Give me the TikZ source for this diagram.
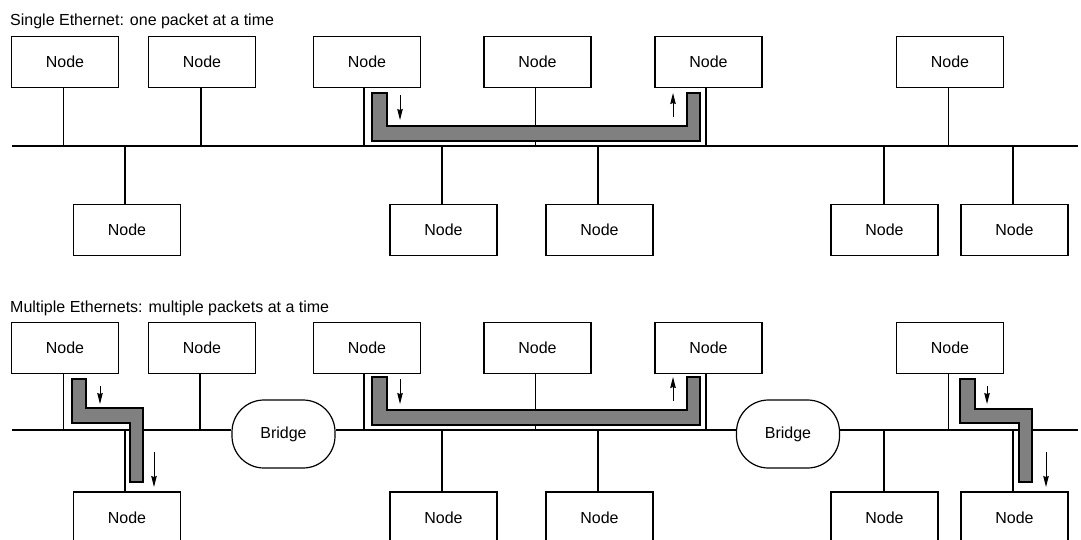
\documentclass[tikz,border=0pt]{standalone}
\usepackage{fontspec}
\setmainfont{Liberation Sans}
\usetikzlibrary{arrows.meta}
\begin{document}
\begin{tikzpicture}[x=1pt,y=-1pt,
  every node/.style={font=\fontsize{16}{19}\selectfont},
  hostbox/.style={draw, line width=1.2pt, minimum width=107pt, minimum height=51pt, inner sep=0pt},
  bridgebox/.style={draw, line width=1.2pt, rounded corners=32pt, minimum width=103pt, minimum height=68pt, inner sep=0pt},
  wire/.style={line width=1.2pt},
  packet/.style={draw=black, fill=black!50, line width=1.2pt},
  flow/.style={line width=1pt, -{Stealth[length=11pt,width=5.5pt,inset=1pt]}},
  title/.style={anchor=base west, inner sep=0pt}
]
\useasboundingbox (0,0) rectangle (1081,539);
\clip (0,0) rectangle (1081,539);

% ---------------- Top: single Ethernet ----------------
\node[title] (t1) at (10,25) {Single Ethernet: one packet at a time};

\coordinate (busL) at (12,146);
\coordinate (busR) at (1078,146);
\draw[wire] (busL) -- (busR);

\node[hostbox] (a1) at (65,62) {Node};
\node[hostbox] (a2) at (202,62) {Node};
\node[hostbox] (a3) at (367,62) {Node};
\node[hostbox] (a4) at (537.5,62) {Node};
\node[hostbox] (a5) at (708.5,62) {Node};
\node[hostbox] (a6) at (950,62) {Node};

\node[hostbox] (b1) at (127,230) {Node};
\node[hostbox] (b2) at (443.5,230) {Node};
\node[hostbox] (b3) at (599.5,230) {Node};
\node[hostbox] (b4) at (884.5,230) {Node};
\node[hostbox] (b5) at (1014.5,230) {Node};

\foreach \n/\d in {a1/-1.5, a2/-1, a3/-3, a4/-2, a5/-2.5, a6/-1.5}
  \draw[wire] ([xshift=\d pt]\n.south) -- ([xshift=\d pt]\n.south |- busL);
\foreach \n/\d in {b1/-2, b2/-1.5, b3/-1.5, b4/-0.5, b5/-1.5}
  \draw[wire] ([xshift=\d pt]\n.north) -- ([xshift=\d pt]\n.north |- busL);

\draw[packet] (372,93) -- (387,93) -- (387,126) -- (687,126) -- (687,93)
  -- (700,93) -- (700,141) -- (372,141) -- cycle;
\draw[flow] (400,95) -- (400,120);
\draw[flow] (673,117) -- (673,93);

% ---------------- Bottom: multiple Ethernets ----------------
\node[title] (t2) at (10,312) {Multiple Ethernets: multiple packets at a time};

\node[bridgebox] (br1) at (283.5,434) {Bridge};
\node[bridgebox] (br2) at (788,434) {Bridge};

\coordinate (bus2L) at (12,430);
\coordinate (bus2R) at (1078,430);
\draw[wire] (bus2L) -- (bus2L -| br1.west);
\draw[wire] (br1.east |- bus2L) -- (br2.west |- bus2L);
\draw[wire] (br2.east |- bus2L) -- (bus2R);

\node[hostbox] (c1) at (65,348) {Node};
\node[hostbox] (c2) at (202,348) {Node};
\node[hostbox] (c3) at (367,348) {Node};
\node[hostbox] (c4) at (537.5,348) {Node};
\node[hostbox] (c5) at (708.5,348) {Node};
\node[hostbox] (c6) at (950,348) {Node};

\node[hostbox] (d1) at (127,517.5) {Node};
\node[hostbox] (d2) at (443.5,517.5) {Node};
\node[hostbox] (d3) at (599.5,517.5) {Node};
\node[hostbox] (d4) at (884.5,517.5) {Node};
\node[hostbox] (d5) at (1014.5,517.5) {Node};

\foreach \n/\d in {c1/-1.5, c2/-2, c3/-3, c4/-2, c5/-2.5, c6/-1.5}
  \draw[wire] ([xshift=\d pt]\n.south) -- ([xshift=\d pt]\n.south |- bus2L);
\foreach \n/\d in {d1/-2, d2/-1.5, d3/-1.5, d4/-0.5, d5/-1.5}
  \draw[wire] ([xshift=\d pt]\n.north) -- ([xshift=\d pt]\n.north |- bus2L);

% middle U packet
\draw[packet] (372,377) -- (387,377) -- (387,410) -- (687,410) -- (687,377)
  -- (700,377) -- (700,425) -- (372,425) -- cycle;
\draw[flow] (400,379) -- (400,404);
\draw[flow] (673,401) -- (673,377);

% left Z packet
\draw[packet] (72,379) -- (86,379) -- (86,408) -- (143,408) -- (143,482)
  -- (130,482) -- (130,423) -- (72,423) -- cycle;
\draw[flow] (100,386) -- (100,404);
\draw[flow] (154,452) -- (154,487);

% right Z packet
\draw[packet] (960,379) -- (975,379) -- (975,409) -- (1032,409) -- (1032,482)
  -- (1019,482) -- (1019,423) -- (960,423) -- cycle;
\draw[flow] (987,386) -- (987,404);
\draw[flow] (1046,452) -- (1046,487);
\end{tikzpicture}
\end{document}
